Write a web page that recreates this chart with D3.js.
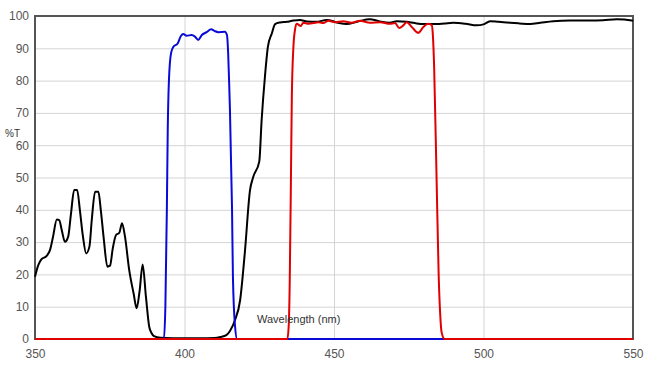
<!DOCTYPE html>
<html>
<head>
<meta charset="utf-8">
<script src="https://cdn.jsdelivr.net/npm/d3@7"></script>
<style>
  body { margin: 0; background: #fff; }
  svg { display: block; font-family: Arial, "Liberation Sans", sans-serif; }
  .grid line { stroke: #d4d4d4; stroke-width: 1; }
  .tick text { fill: #555; font-size: 12px; }
</style>
</head>
<body>
<svg id="chart" width="668" height="373"></svg>
<script>
// x ticks and y ticks
var xTicks = [350, 400, 450, 500, 550];
var yTicks = [0, 10, 20, 30, 40, 50, 60, 70, 80, 90, 100];

// black curve (wavelength nm, %T)
var blackNm = [350, 351.1, 352.2, 353.9, 355, 356, 357.3, 358.1, 359, 360, 361.1, 362, 363.1, 364.1, 365, 366, 367.1, 368.2, 369, 370.1, 371.2, 372, 373, 374.2, 375.1, 376, 377.1, 378.2, 379.1, 380.1, 381.5, 383, 384, 385, 386, 387.1, 388.2, 389, 389.8, 392, 400, 405, 410, 412, 414, 415.2, 416.9, 418.6, 420.2, 421.9, 423, 425, 425.8, 426.9, 427.9, 429.2, 430.3, 432, 434.2, 436.4, 438.6, 441, 444, 447.6, 451, 454.2, 458, 462, 465, 468.7, 471, 474.3, 477, 479.9, 484.3, 487, 489.9, 494, 497.7, 500, 502.2, 505, 508.9, 512, 515.6, 519, 523.3, 528.9, 535.6, 540, 544.5, 549.6, 550];
var blackT = [19.3, 22.9, 24.7, 25.7, 27.5, 31.5, 37.0, 36.8, 33.5, 30.1, 31.7, 38.5, 46.1, 46.1, 40, 32, 26.5, 28.6, 37, 45.6, 45.6, 40, 31, 22.4, 22.7, 28, 32.2, 32.9, 35.8, 31.7, 21.4, 14, 9.5, 15, 23.1, 13.1, 3.8, 1.8, 0.9, 0.4, 0.2, 0.2, 0.3, 0.6, 1.2, 2.5, 5.9, 12, 27, 46, 50.2, 54.9, 67.8, 81.2, 90.5, 94.6, 97.5, 98.0, 98.2, 98.6, 98.8, 98.3, 98.2, 98.8, 98.0, 97.5, 98.3, 99.0, 98.4, 97.9, 98.4, 98.2, 97.8, 97.5, 97.5, 97.7, 97.9, 97.6, 97.1, 97.4, 98.4, 98.2, 97.9, 97.7, 97.5, 97.9, 98.4, 98.6, 98.6, 98.7, 99.0, 98.6, 98.5];

// blue curve
var blueNm = [350, 393.1, 393.6, 394.1, 394.4, 394.8, 395.5, 396.3, 397.7, 398.8, 399.6, 400.7, 402.4, 403.5, 404.6, 405.8, 407.4, 408.9, 410, 411.3, 413.5, 414.2, 414.6, 414.9, 415.2, 415.9, 416.2, 416.9, 417.6, 550];
var blueT = [0, 0, 10, 40, 65, 80.2, 88.5, 90.5, 91.5, 93.8, 94.4, 93.9, 94.1, 93.6, 92.6, 94.1, 95.0, 95.9, 95.4, 95.0, 95.1, 94.1, 88.5, 80.2, 71, 40, 19, 4, 0, 0];

// red curve
var redNm = [350, 434.4, 434.9, 435.2, 435.6, 435.9, 436.4, 437, 437.5, 438.9, 439.7, 441.5, 443.1, 444.7, 446.4, 448.1, 450.3, 453.1, 455.9, 458.7, 462, 465.4, 468.7, 470.4, 471.8, 473.2, 474.3, 476, 478.2, 479.9, 481.5, 482.7, 483, 483.5, 484.3, 485, 485.5, 486, 487, 550];
var redT = [0, 0, 5, 18, 50, 75, 90, 96, 97.6, 96.9, 97.9, 97.6, 97.8, 98.1, 97.8, 98.5, 98.1, 98.4, 97.9, 98.5, 97.9, 98.1, 97.6, 97.8, 96.3, 97.1, 98.1, 96.6, 94.8, 96.6, 97.6, 97.1, 95, 84, 50, 20, 8, 2, 0, 0];

var margin = {top: 16, right: 35, bottom: 34, left: 35};
var svg = d3.select("#chart");
var width = 668 - margin.left - margin.right,
    height = 373 - margin.top - margin.bottom;

var g = svg.append("g")
    .attr("transform", "translate(" + margin.left + "," + margin.top + ")");

var x = d3.scaleLinear().domain([350, 550]).range([0, width]);
var y = d3.scaleLinear().domain([0, 100]).range([height, 0]);

// grid
g.append("g").attr("class", "grid")
  .selectAll("line.h").data(yTicks).enter().append("line")
    .attr("x1", 0).attr("x2", width)
    .attr("y1", function(d) { return y(d) + 0.5; })
    .attr("y2", function(d) { return y(d) + 0.5; });
g.append("g").attr("class", "grid")
  .selectAll("line.v").data(xTicks).enter().append("line")
    .attr("y1", 0).attr("y2", height)
    .attr("x1", function(d) { return x(d) + 0.5; })
    .attr("x2", function(d) { return x(d) + 0.5; });

// axes (labels only, frame drawn separately)
var xAxis = d3.axisBottom(x).tickValues(xTicks).tickSize(0).tickPadding(10);
var yAxis = d3.axisLeft(y).tickValues(yTicks).tickSize(0).tickPadding(6);
g.append("g").attr("class", "x axis")
  .attr("transform", "translate(0," + height + ")")
  .call(xAxis)
  .call(function(s) { s.select(".domain").remove(); });
g.append("g").attr("class", "y axis")
  .call(yAxis)
  .call(function(s) { s.select(".domain").remove(); });

// frame
g.append("rect")
  .attr("x", 0).attr("y", 0).attr("width", width).attr("height", height)
  .attr("fill", "none").attr("stroke", "#555").attr("stroke-width", 2);

function series(nm, t) {
  return nm.map(function(d, i) { return [d, t[i]]; });
}
var line = d3.line()
  .x(function(d) { return x(d[0]); })
  .y(function(d) { return y(d[1]); })
  .curve(d3.curveMonotoneX);

var curves = [
  {data: series(blackNm, blackT), color: "#000"},
  {data: series(blueNm, blueT), color: "#0a0ad8"},
  {data: series(redNm, redT), color: "#e00000"}
];
g.selectAll(".line").data(curves).enter().append("path")
  .attr("class", "line")
  .attr("fill", "none")
  .attr("stroke", function(d) { return d.color; })
  .attr("stroke-width", 2)
  .attr("stroke-linejoin", "round")
  .attr("d", function(d) { return line(d.data); });

// labels
svg.append("text")
  .attr("x", 5).attr("y", 137)
  .attr("font-size", 10).attr("fill", "#333")
  .text("%T");
svg.append("text")
  .attr("x", 257).attr("y", 323)
  .attr("font-size", 11).attr("fill", "#333")
  .text("Wavelength (nm)");
</script>
</body>
</html>
